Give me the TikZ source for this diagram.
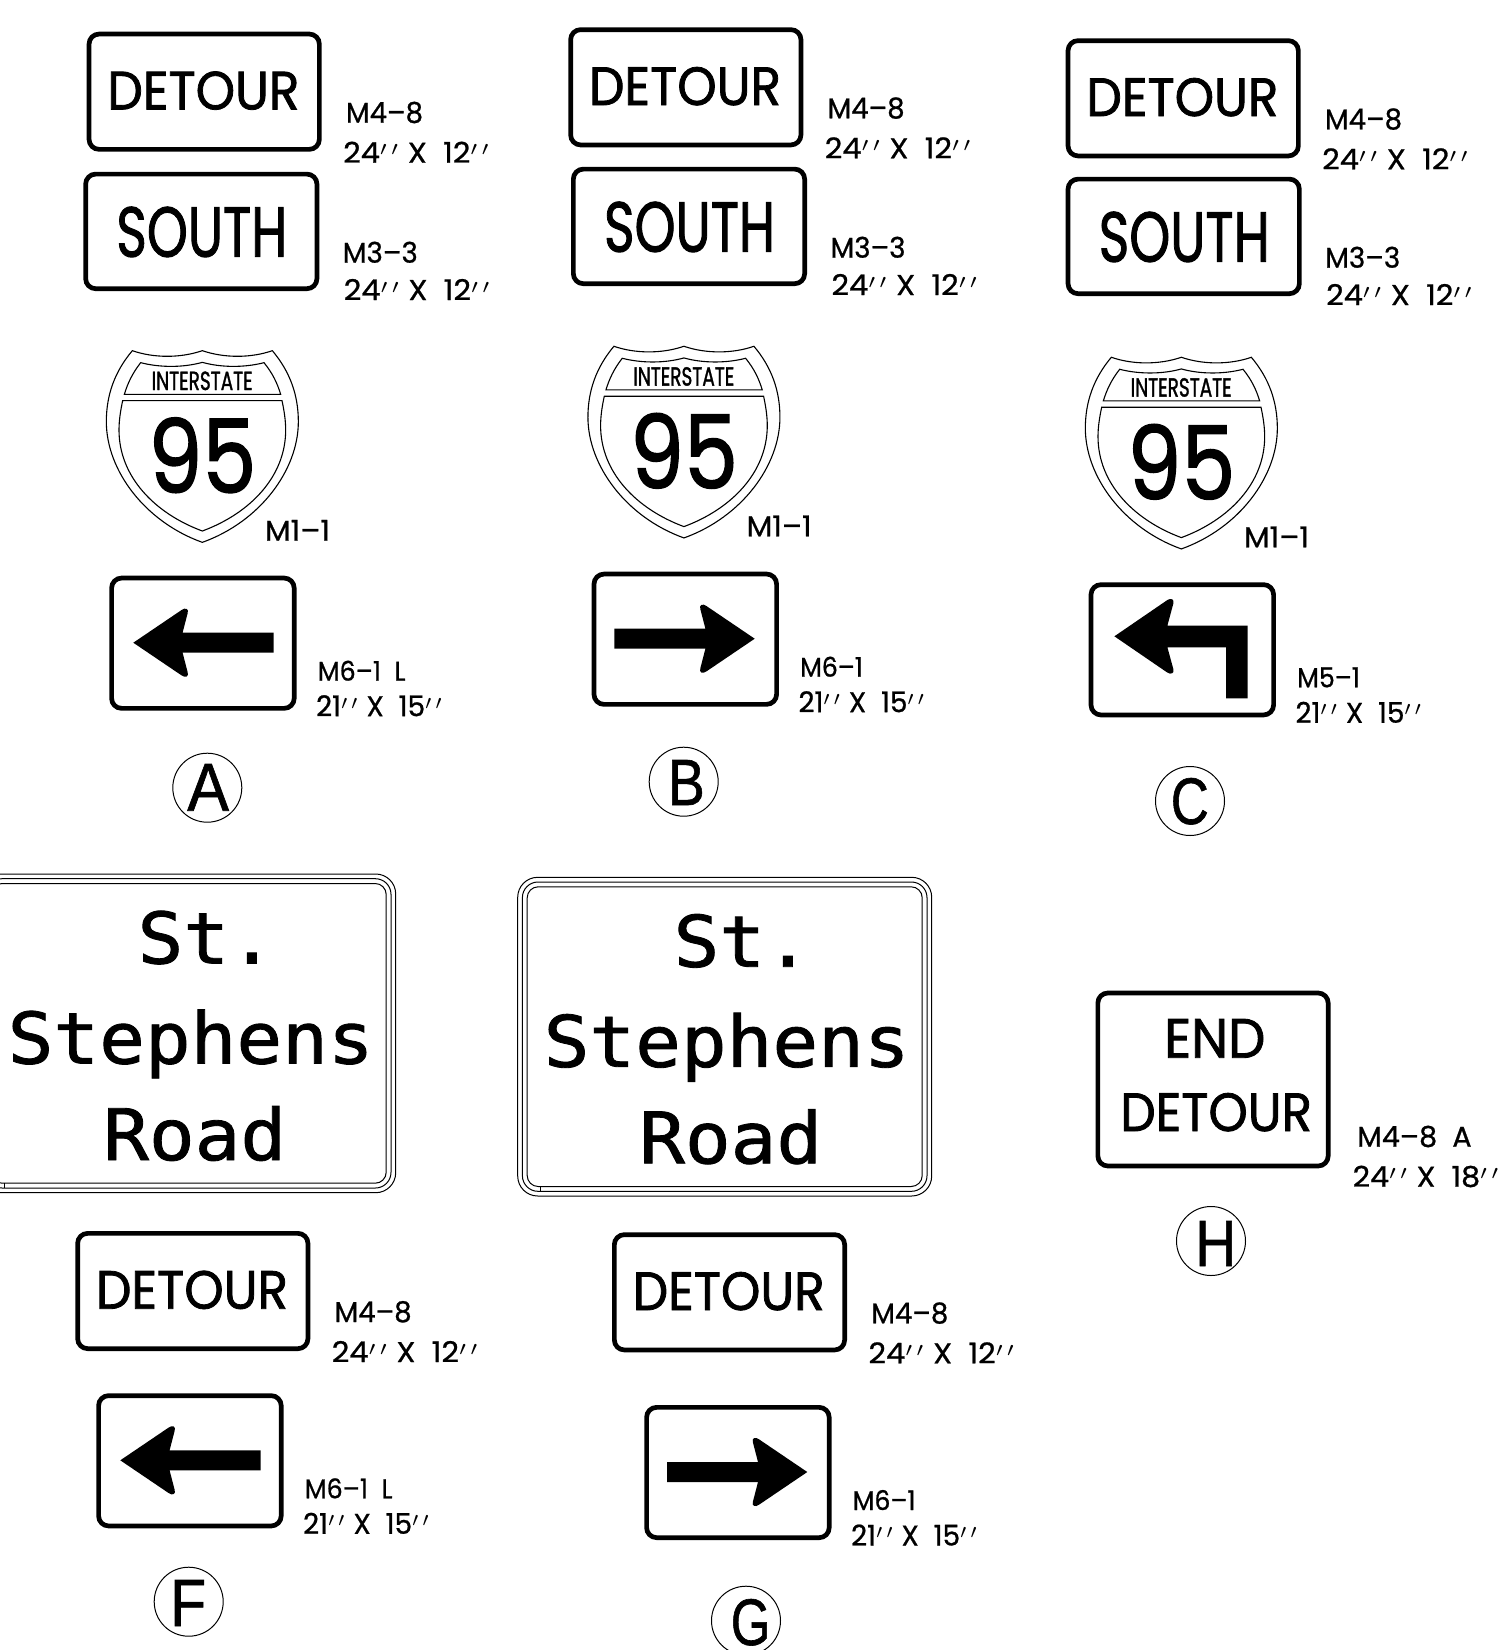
\documentclass[tikz,border=0pt]{standalone}
\usepackage{graphicx}
\usepackage{fontspec}
\setmainfont[FakeBold=1.5]{Poppins}
\newfontfamily\lblf[FakeBold=0.8]{Poppins}
\newfontfamily\monof[FakeStretch=1.07,FakeBold=1.2]{DejaVu Sans Mono}
\newfontfamily\arialf[FakeBold=1]{Liberation Sans}
\newlength\uu \setlength\uu{0.5pt}
\newcommand\ppr{\smash{\raisebox{-0.12em}{$^{\prime\,\prime}$}}}
\tikzset{
  txt/.style={inner sep=0,outer sep=0,anchor=base west},
  signbox/.style={draw=black,line width=2.35pt,rounded corners=5pt,inner sep=0,outer sep=0},
  borderline/.style={draw=black,line width=0.5pt,inner sep=0,outer sep=0},
  shieldline/.style={draw=black,line width=0.55pt},
  letterring/.style={circle,draw=black,line width=0.5pt,minimum size=69\uu,inner sep=0,outer sep=0},
  monotxt/.style={inner sep=0,outer sep=0,anchor=base,font=\monof\fontsize{35.5}{36}\selectfont}
}
\newcommand\fit[6]{\node[txt](#1) at (#2,#3) {\resizebox{#4\uu}{#5\uu}{#6}};}
\newcommand\detoursign[3]{\begin{scope}[shift={(#2,#3)}]
  \node[signbox,minimum width=230.3\uu,minimum height=115.3\uu](#1box) at (117.5,60) {};
  \fit{#1txt}{20.7}{77.7}{192}{38}{DETOUR}
  \fit{#1code}{259.3}{91}{77}{21}{\lblf M4–8}
  \fit{#1size}{256.5}{131}{147}{21}{\lblf 24\ppr\ X\ \ 12\ppr}
\end{scope}}
\newcommand\southsign[3]{\begin{scope}[shift={(#2,#3)}]
  \node[signbox,minimum width=231.3\uu,minimum height=114.6\uu](#1box) at (118,59.7) {};
  \fit{#1txt}{33}{85}{171}{50}{SOUTH}
  \fit{#1code}{259.5}{91}{75}{21}{\lblf M3–3}
  \fit{#1size}{260.5}{128.3}{147}{21}{\lblf 24\ppr\ X\ \ 12\ppr}
\end{scope}}
\newcommand\shapeleft{\fill (24,67) -- (72.3,34.3) .. controls (76,31.5) and (80,33) .. (78.3,37.7) -- (73.3,57) -- (164.3,57) -- (164.3,77) -- (73.3,77) -- (78.3,96.3) .. controls (80,101) and (76,102.5) .. (72.3,99.7) -- cycle;}
\newcommand\shaperight{\fill (163,67) -- (114.7,34.3) .. controls (111,31.5) and (107,33) .. (108.7,37.7) -- (113.7,57) -- (22.7,57) -- (22.7,77) -- (113.7,77) -- (108.7,96.3) .. controls (107,101) and (111,102.5) .. (114.7,99.7) -- cycle;}
\newcommand\shapeturn{\fill (25.7,54) -- (78.7,17.7) .. controls (82,15.5) and (86,17) .. (84.7,21) -- (78.7,43.3) -- (159,43.3) -- (159,116) -- (137.3,116) -- (137.3,65) -- (78.7,65) -- (84.7,87) .. controls (86,91) and (82,92.5) .. (78.7,90.3) -- cycle;}
% #1 prefix, #2 x, #3 y, #4 shape, #5 code, #6 code width
\newcommand\panel[6]{\begin{scope}[shift={(#2,#3)}]
  \node[signbox,minimum width=182.6\uu,minimum height=130.3\uu](#1box) at (93.6,67.5) {};
  #4
  \fit{#1code}{208.5}{105}{#6}{20}{\lblf #5}
  \fit{#1size}{206.8}{140.5}{127}{21}{\lblf 21\ppr\ X\ \ 15\ppr}
\end{scope}}
\newcommand\shield[3]{\begin{scope}[shift={(80+#2,330+#3)},x=0.16667pt,y=-0.16667pt]
  \draw[shieldline] (157,62) .. controls (220,84) and (300,85) .. (367,62) .. controls (434,85) and (514,84) .. (577,62)
     .. controls (630,125) and (655,195) .. (655,275) .. controls (655,420) and (540,575) .. (367,637)
     .. controls (194,575) and (79,420) .. (79,275) .. controls (79,195) and (104,125) .. (157,62) -- cycle;
  \draw[shieldline] (182,98) .. controls (240,113) and (310,113) .. (367,97) .. controls (424,113) and (494,113) .. (552,98)
     .. controls (578,130) and (592,160) .. (602,193) -- (133,193) .. controls (143,160) and (157,130) .. (182,98) -- cycle;
  \draw[shieldline] (128,212) -- (606,212) .. controls (612,240) and (617,270) .. (617,300) .. controls (617,440) and (510,550) .. (367,603)
     .. controls (224,550) and (117,440) .. (117,300) .. controls (117,270) and (122,240) .. (128,212) -- cycle;
  \fit{#1int}{215}{180}{101}{18.5}{INTERSTATE}
  \fit{#1num}{205}{488}{108}{75}{95}
  \fit{#1code}{555}{632}{65}{20.7}{\lblf M1–1}
\end{scope}}
\newcommand\stsign[3]{\begin{scope}[shift={(#2,#3)}]
  \node[borderline,rounded corners=10pt,minimum width=414\uu,minimum height=318.7\uu](#1outer) at (207,159.35) {};
  \node[borderline,rounded corners=7.8pt,minimum width=404.6\uu,minimum height=309.3\uu](#1mid) at (207,159.35) {};
  \node[borderline,rounded corners=5.5pt,minimum width=395\uu,minimum height=299.7\uu](#1inner) at (207,159.35) {};
  \draw[line width=0.5pt] (22.3,309.4) -- (22.3,314.4);
  \node[monotxt](#1a) at (224.5,89.4) {St.};
  \node[monotxt](#1b) at (209,189.5) {Stephens};
  \node[monotxt](#1c) at (213,286) {Road};
\end{scope}}
\begin{document}
\begin{tikzpicture}[x=0.5pt,y=-0.5pt]
\useasboundingbox (0,0) rectangle (1503,1650);
\clip (0,0) rectangle (1503,1650);
% column A
\detoursign{da}{86.7}{31.7}
\southsign{sa}{83.3}{171.7}
\shield{ia}{0}{0}
\panel{pa}{109.3}{575.7}{\shapeleft}{M6–1\ \ L}{87.7}
\node[letterring](ca) at (207.3,787.7) {};
\fit{la}{187.3}{810.7}{41.7}{46.7}{\arialf A}
% column B
\detoursign{db}{568.3}{27.3}
\southsign{sb}{571}{166.7}
\shield{ib}{481.6}{-4.4}
\panel{pb}{591.7}{571.7}{\shaperight}{M6–1}{62.7}
\node[letterring](cb) at (683.7,781.7) {};
\fit{lb}{667.8}{805}{37}{45}{\arialf B}
% column C
\detoursign{dc}{1065.7}{38.3}
\southsign{sc}{1065.7}{176.7}
\shield{ic}{979}{6.6}
\panel{pc}{1088.7}{582.3}{\shapeturn}{M5–1}{62.7}
\node[letterring](cc) at (1190,801) {};
\fit{lc}{1170.8}{824}{38}{46}{\arialf C}
% F
\stsign{stf}{-18.3}{874}
\detoursign{df}{75.3}{1231}
\panel{pf}{96.3}{1393.3}{\shapeleft}{M6–1\ \ L}{87.7}
\node[letterring](cf) at (188.7,1601.7) {};
\fit{lf}{170.2}{1626}{36}{46}{\arialf F}
% G
\stsign{stg}{517.7}{877.3}
\detoursign{dg}{612}{1232.3}
\panel{pg}{644.3}{1405}{\shaperight}{M6–1}{62.7}
\node[letterring](cg) at (746,1620.7) {};
\fit{lg}{730.8}{1645}{39.7}{46}{\arialf G}
% H
\node[signbox,minimum width=230.3\uu,minimum height=173\uu](hbox) at (1213,1079.5) {};
\fit{hend}{1164.3}{1057.7}{101}{38.7}{END}
\fit{hdet}{1120.3}{1131}{191.7}{38}{DETOUR}
\fit{hcode}{1357.3}{1146.7}{114.3}{21}{\lblf M4–8\ \ A}
\fit{hsize}{1352.7}{1186.7}{147}{21}{\lblf 24\ppr\ X\ \ 18\ppr}
\node[letterring](ch) at (1211,1241) {};
\fit{lh}{1195.3}{1266}{41}{45}{\arialf H}
\end{tikzpicture}
\end{document}
